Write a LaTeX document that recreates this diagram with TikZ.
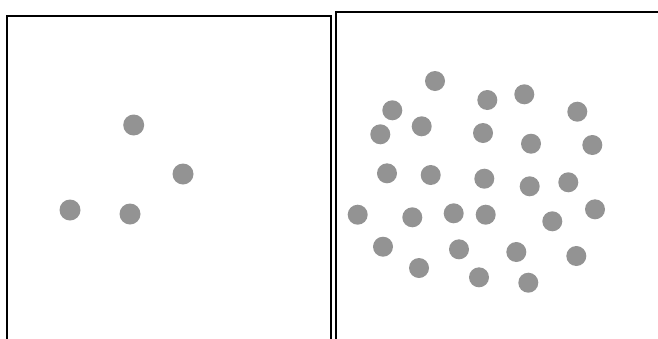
\documentclass[tikz,border=0pt]{standalone}
\definecolor{dotgray}{HTML}{939393}
\begin{document}
\begin{tikzpicture}[x=1pt,y=-1pt,
  frame/.style={draw=black,line width=2pt},
  dot/.style={fill=dotgray}]
\useasboundingbox (0,0) rectangle (658,338);
% left panel
\draw[frame] (7,345) -- (7,15.5) -- (331,15.5) -- (331,345);
% right panel
\draw[frame] (335.5,345) -- (335.5,12) -- (665,12);
% left dots
\foreach \x/\y in {133.7/125,183/174,70/210,130/214}
  \fill[dot] (\x,\y) circle (10.5);
% right dots
\foreach \x/\y in {435/81,487.3/100,524.3/94.3,392.3/110.3,577.3/111.7,
  380.3/134.3,421.7/126.3,483/133,531/143.7,592.3/145,
  387/173.3,430.7/175,484.3/178.7,529.7/186.3,568.3/182.3,
  357.7/214.7,412.3/217.3,453.7/213.3,485.7/214.7,552.3/221.3,595/209.3,
  383/246.7,459/249.3,516.3/252,576.3/256,
  419/268,479/277.3,528.3/282.7}
  \fill[dot] (\x,\y) circle (10);
\end{tikzpicture}
\end{document}
